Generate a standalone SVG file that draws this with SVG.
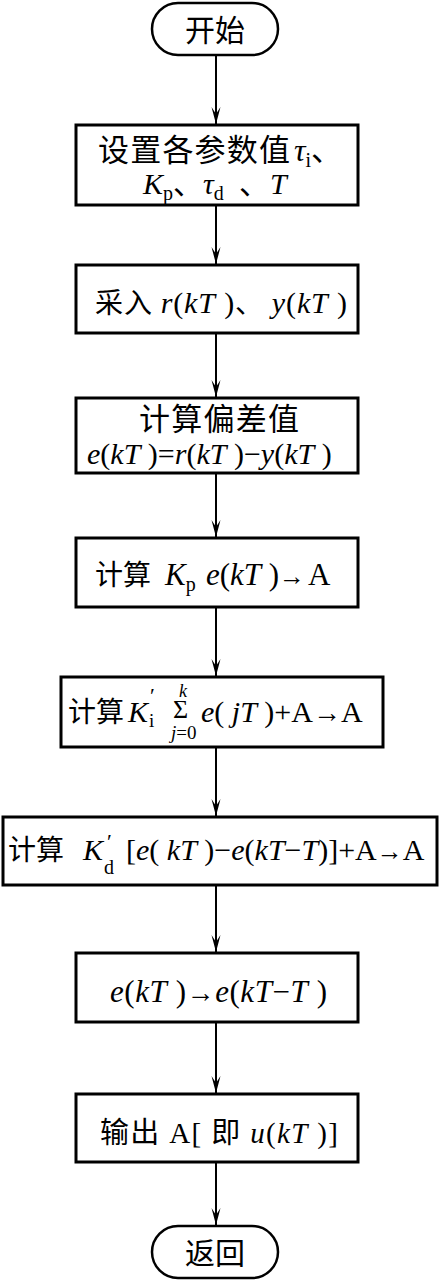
<svg xmlns="http://www.w3.org/2000/svg" width="439" height="1282" viewBox="0 0 439 1282">
<style>
.box{fill:#fff;stroke:#000;stroke-width:3}
.term{fill:#fff;stroke:#000;stroke-width:2.5}
.t{font-family:"Liberation Serif","Noto Sans CJK SC",serif;fill:#000}
.i{font-style:italic}
.c{stroke:#000;stroke-width:2;fill:none}
</style>
<defs>
<marker id="ah" markerUnits="userSpaceOnUse" markerWidth="20" markerHeight="12" viewBox="-18 -6 20 12" refX="0" refY="0" orient="auto">
<path d="M0,0 L-17,-4.5 L-10,0 L-17,4.5 Z" fill="#000"/>
</marker>
</defs>
<rect width="439" height="1282" fill="#fff"/>
<g id="connectors">
<line class="c" x1="216" y1="55" x2="216" y2="124" marker-end="url(#ah)"/>
<line class="c" x1="216" y1="205" x2="216" y2="264" marker-end="url(#ah)"/>
<line class="c" x1="216" y1="333" x2="216" y2="397" marker-end="url(#ah)"/>
<line class="c" x1="216" y1="473" x2="216" y2="537" marker-end="url(#ah)"/>
<line class="c" x1="216" y1="607" x2="216" y2="676" marker-end="url(#ah)"/>
<line class="c" x1="216" y1="747" x2="216" y2="816" marker-end="url(#ah)"/>
<line class="c" x1="216" y1="885" x2="216" y2="952" marker-end="url(#ah)"/>
<line class="c" x1="216" y1="1022" x2="216" y2="1093" marker-end="url(#ah)"/>
<line class="c" x1="216" y1="1162" x2="216" y2="1225" marker-end="url(#ah)"/>
</g>
<g id="start">
<rect class="term" x="152" y="3" width="126" height="52" rx="26"/>
<text class="t" x="215" y="41" font-size="30" text-anchor="middle">开始</text>
</g>
<g id="n1">
<rect class="box" x="76" y="125" width="282" height="80"/>
<text class="t" font-size="31"><tspan x="98" y="161" textLength="192">设置各参数值</tspan><tspan x="294" class="i" font-size="32">τ</tspan><tspan font-size="20" dy="6">i</tspan><tspan dy="-6">、</tspan><tspan x="143" y="194" class="i" font-size="30">K</tspan><tspan font-size="20" dy="6">p</tspan><tspan dy="-6" font-size="30">、</tspan><tspan class="i" font-size="30" x="203">τ</tspan><tspan font-size="20" dy="6">d</tspan><tspan dy="-6" font-size="30" x="239">、</tspan><tspan class="i" font-size="30" x="270">T</tspan></text>
</g>
<g id="n2">
<rect class="box" x="76" y="265" width="282" height="68"/>
<text class="t" x="95" y="313" font-size="28" textLength="252">采入 <tspan class="i" font-size="30">r</tspan><tspan font-size="30">(</tspan><tspan class="i" font-size="30">kT</tspan><tspan font-size="30"> )</tspan>、 <tspan class="i" font-size="30">y</tspan><tspan font-size="30">(</tspan><tspan class="i" font-size="30">kT</tspan><tspan font-size="30"> )</tspan></text>
</g>
<g id="n3">
<rect class="box" x="76" y="398" width="282" height="75"/>
<text class="t" font-size="31"><tspan x="219" y="430" text-anchor="middle" textLength="160">计算偏差值</tspan><tspan x="87" y="464" class="i" font-size="30">e</tspan><tspan font-size="30">(</tspan><tspan class="i" font-size="30">kT</tspan><tspan font-size="30"> )=</tspan><tspan class="i" font-size="30">r</tspan><tspan font-size="30">(</tspan><tspan class="i" font-size="30">kT</tspan><tspan font-size="30"> )−</tspan><tspan class="i" font-size="30">y</tspan><tspan font-size="30">(</tspan><tspan class="i" font-size="30">kT</tspan><tspan font-size="30"> )</tspan></text>
</g>
<g id="n4">
<rect class="box" x="76" y="538" width="282" height="69"/>
<text class="t" font-size="28"><tspan x="95" y="585">计算</tspan><tspan x="165" class="i" font-size="31">K</tspan><tspan font-size="20" dy="6">p</tspan><tspan x="206" dy="-6" class="i" font-size="31">e</tspan><tspan font-size="31">(</tspan><tspan class="i" font-size="31">kT</tspan><tspan font-size="31"> )</tspan><tspan x="279" font-size="26">→</tspan><tspan x="308" font-size="31">A</tspan></text>
</g>
<g id="n5">
<rect class="box" x="61" y="677" width="322" height="70"/>
<text class="t" font-size="28"><tspan x="68" y="722">计算</tspan><tspan x="128" y="722" class="i" font-size="30">K</tspan><tspan x="150" y="703" font-size="22">′</tspan><tspan x="149" y="727" font-size="19">i</tspan><tspan x="179" y="697" class="i" font-size="18">k</tspan><tspan x="173" y="718" font-size="26">Σ</tspan><tspan x="171" y="739" class="i" font-size="19">j</tspan><tspan font-size="19">=0</tspan><tspan x="201" y="722" class="i" font-size="30">e</tspan><tspan font-size="30">( </tspan><tspan class="i" font-size="30">jT</tspan><tspan font-size="30"> )+A</tspan><tspan font-size="28">→</tspan><tspan font-size="30">A</tspan></text>
</g>
<g id="n6">
<rect class="box" x="3" y="817" width="434" height="68"/>
<text class="t" font-size="28"><tspan x="8" y="860">计算</tspan><tspan x="83" y="860" class="i" font-size="30">K</tspan><tspan x="107" y="849" font-size="22">′</tspan><tspan x="104" y="874" font-size="20">d</tspan><tspan x="126" y="860" font-size="30">[</tspan><tspan class="i" font-size="30">e</tspan><tspan font-size="30">( </tspan><tspan class="i" font-size="30">kT</tspan><tspan font-size="30"> )−</tspan><tspan class="i" font-size="30">e</tspan><tspan font-size="30">(</tspan><tspan class="i" font-size="30">kT</tspan><tspan font-size="30">−</tspan><tspan class="i" font-size="30">T</tspan><tspan font-size="30">)]+A</tspan><tspan font-size="26">→</tspan><tspan font-size="30">A</tspan></text>
</g>
<g id="n7">
<rect class="box" x="76" y="953" width="282" height="69"/>
<text class="t" x="110" y="1002" font-size="31" textLength="217"><tspan class="i">e</tspan>(<tspan class="i">kT</tspan> )<tspan font-size="28">→</tspan><tspan class="i">e</tspan>(<tspan class="i">kT</tspan>−<tspan class="i">T</tspan> )</text>
</g>
<g id="n8">
<rect class="box" x="76" y="1094" width="282" height="68"/>
<text class="t" x="100" y="1143" font-size="29" textLength="238">输出 A[ 即 <tspan class="i">u</tspan>(<tspan class="i">kT</tspan> )]</text>
</g>
<g id="end">
<rect class="term" x="152" y="1226" width="126" height="52" rx="26"/>
<text class="t" x="215" y="1264" font-size="30" text-anchor="middle">返回</text>
</g>
</svg>
